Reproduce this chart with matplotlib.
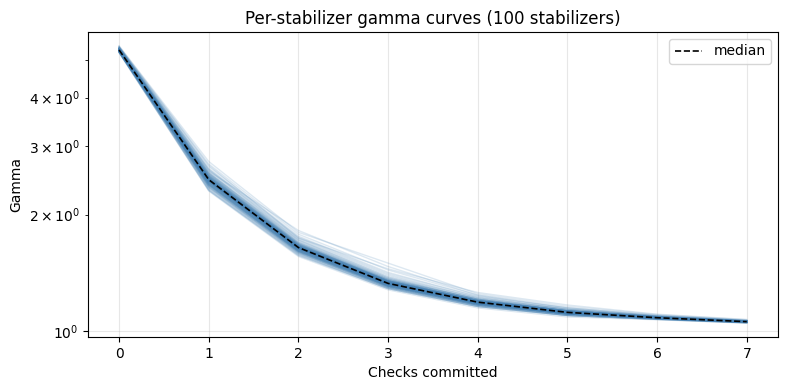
import matplotlib
matplotlib.use("Agg")
import matplotlib.pyplot as plt
import numpy as np

checks = [0, 1, 2, 3, 4, 5, 6, 7]

# gamma per stabilizer, one row per stabilizer
gamma_curves = [
    [5.31, 2.45, 1.64, 1.33, 1.19, 1.12, 1.085, 1.060],
    [5.28, 2.41, 1.62, 1.32, 1.18, 1.11, 1.080, 1.058],
    [5.35, 2.52, 1.68, 1.35, 1.20, 1.13, 1.090, 1.062],
    [5.25, 2.36, 1.60, 1.30, 1.17, 1.11, 1.078, 1.055],
    [5.33, 2.48, 1.66, 1.34, 1.19, 1.12, 1.087, 1.061],
    [5.40, 2.62, 1.74, 1.40, 1.22, 1.14, 1.095, 1.066],
    [5.29, 2.44, 1.63, 1.32, 1.18, 1.12, 1.083, 1.059],
    [5.27, 2.39, 1.61, 1.31, 1.18, 1.11, 1.081, 1.057],
    [5.36, 2.55, 1.69, 1.36, 1.21, 1.13, 1.091, 1.064],
    [5.30, 2.46, 1.65, 1.33, 1.19, 1.12, 1.086, 1.060],
    [5.24, 2.33, 1.58, 1.29, 1.16, 1.10, 1.075, 1.053],
    [5.32, 2.47, 1.65, 1.34, 1.19, 1.12, 1.086, 1.061],
    [5.38, 2.58, 1.71, 1.37, 1.21, 1.13, 1.092, 1.064],
    [5.26, 2.38, 1.61, 1.31, 1.17, 1.11, 1.080, 1.056],
    [5.31, 2.44, 1.64, 1.33, 1.19, 1.12, 1.084, 1.060],
    [5.34, 2.50, 1.67, 1.35, 1.20, 1.13, 1.088, 1.062],
    [5.42, 2.70, 1.78, 1.44, 1.24, 1.15, 1.100, 1.068],
    [5.29, 2.43, 1.63, 1.32, 1.18, 1.12, 1.083, 1.059],
    [5.30, 2.45, 1.64, 1.33, 1.19, 1.12, 1.085, 1.060],
    [5.27, 2.40, 1.62, 1.31, 1.18, 1.11, 1.081, 1.057],
    [5.33, 2.49, 1.66, 1.34, 1.20, 1.12, 1.087, 1.061],
    [5.23, 2.31, 1.57, 1.29, 1.16, 1.10, 1.074, 1.052],
    [5.35, 2.53, 1.67, 1.36, 1.20, 1.13, 1.089, 1.063],
    [5.28, 2.42, 1.63, 1.32, 1.18, 1.11, 1.082, 1.058],
    [5.32, 2.46, 1.65, 1.33, 1.19, 1.12, 1.085, 1.060],
    [5.37, 2.56, 1.72, 1.38, 1.21, 1.14, 1.093, 1.065],
    [5.30, 2.44, 1.64, 1.33, 1.19, 1.12, 1.084, 1.059],
    [5.26, 2.37, 1.60, 1.30, 1.17, 1.11, 1.079, 1.056],
    [5.31, 2.47, 1.65, 1.34, 1.19, 1.12, 1.086, 1.061],
    [5.44, 2.74, 1.80, 1.50, 1.25, 1.16, 1.105, 1.072],
    [5.29, 2.42, 1.63, 1.32, 1.18, 1.12, 1.083, 1.058],
    [5.34, 2.51, 1.67, 1.35, 1.20, 1.13, 1.088, 1.062],
    [5.25, 2.35, 1.59, 1.30, 1.17, 1.10, 1.077, 1.054],
    [5.32, 2.48, 1.66, 1.34, 1.19, 1.12, 1.087, 1.061],
    [5.30, 2.45, 1.64, 1.33, 1.19, 1.12, 1.085, 1.060],
    [5.36, 2.54, 1.68, 1.36, 1.20, 1.13, 1.090, 1.063],
    [5.28, 2.41, 1.62, 1.32, 1.18, 1.11, 1.082, 1.057],
    [5.39, 2.60, 1.73, 1.39, 1.22, 1.14, 1.094, 1.065],
    [5.31, 2.46, 1.65, 1.33, 1.19, 1.12, 1.085, 1.060],
    [5.27, 2.39, 1.61, 1.31, 1.18, 1.11, 1.080, 1.057],
    [5.33, 2.50, 1.66, 1.35, 1.20, 1.12, 1.087, 1.061],
    [5.24, 2.34, 1.59, 1.30, 1.16, 1.10, 1.076, 1.054],
    [5.30, 2.44, 1.64, 1.33, 1.19, 1.12, 1.084, 1.059],
    [5.35, 2.52, 1.68, 1.35, 1.20, 1.13, 1.089, 1.062],
    [5.29, 2.43, 1.63, 1.32, 1.18, 1.12, 1.083, 1.059],
    [5.41, 2.66, 1.76, 1.42, 1.23, 1.15, 1.098, 1.067],
    [5.32, 2.47, 1.65, 1.34, 1.19, 1.12, 1.086, 1.061],
    [5.26, 2.38, 1.61, 1.31, 1.17, 1.11, 1.080, 1.056],
    [5.31, 2.45, 1.64, 1.33, 1.19, 1.12, 1.085, 1.060],
    [5.34, 2.49, 1.66, 1.34, 1.20, 1.12, 1.087, 1.062],
    [5.28, 2.40, 1.62, 1.31, 1.18, 1.11, 1.081, 1.057],
    [5.37, 2.57, 1.70, 1.37, 1.21, 1.13, 1.092, 1.064],
    [5.30, 2.46, 1.65, 1.33, 1.19, 1.12, 1.085, 1.060],
    [5.22, 2.30, 1.56, 1.28, 1.15, 1.09, 1.072, 1.051],
    [5.33, 2.48, 1.66, 1.34, 1.19, 1.12, 1.086, 1.061],
    [5.29, 2.44, 1.63, 1.32, 1.18, 1.12, 1.084, 1.059],
    [5.35, 2.51, 1.67, 1.35, 1.20, 1.13, 1.088, 1.062],
    [5.27, 2.39, 1.61, 1.31, 1.17, 1.11, 1.080, 1.057],
    [5.31, 2.47, 1.65, 1.34, 1.19, 1.12, 1.086, 1.060],
    [5.38, 2.59, 1.82, 1.47, 1.24, 1.15, 1.099, 1.068],
    [5.30, 2.45, 1.64, 1.33, 1.19, 1.12, 1.085, 1.060],
    [5.25, 2.36, 1.60, 1.30, 1.17, 1.11, 1.078, 1.055],
    [5.32, 2.48, 1.65, 1.34, 1.19, 1.12, 1.086, 1.061],
    [5.34, 2.50, 1.67, 1.35, 1.20, 1.13, 1.088, 1.062],
    [5.28, 2.42, 1.62, 1.32, 1.18, 1.11, 1.082, 1.058],
    [5.36, 2.55, 1.69, 1.36, 1.21, 1.13, 1.091, 1.063],
    [5.31, 2.46, 1.64, 1.33, 1.19, 1.12, 1.085, 1.060],
    [5.26, 2.37, 1.60, 1.31, 1.17, 1.11, 1.079, 1.056],
    [5.33, 2.49, 1.66, 1.34, 1.20, 1.12, 1.087, 1.061],
    [5.43, 2.68, 1.74, 1.45, 1.26, 1.17, 1.108, 1.074],
    [5.29, 2.43, 1.63, 1.32, 1.18, 1.12, 1.083, 1.059],
    [5.30, 2.44, 1.64, 1.33, 1.19, 1.12, 1.084, 1.059],
    [5.35, 2.53, 1.68, 1.35, 1.20, 1.13, 1.089, 1.063],
    [5.24, 2.32, 1.58, 1.29, 1.16, 1.10, 1.075, 1.053],
    [5.32, 2.47, 1.65, 1.34, 1.19, 1.12, 1.086, 1.061],
    [5.28, 2.41, 1.62, 1.32, 1.18, 1.11, 1.082, 1.058],
    [5.37, 2.56, 1.70, 1.37, 1.21, 1.13, 1.092, 1.064],
    [5.31, 2.45, 1.64, 1.33, 1.19, 1.12, 1.085, 1.060],
    [5.27, 2.40, 1.61, 1.31, 1.18, 1.11, 1.081, 1.057],
    [5.33, 2.50, 1.66, 1.35, 1.20, 1.12, 1.087, 1.062],
    [5.30, 2.44, 1.64, 1.33, 1.19, 1.12, 1.084, 1.059],
    [5.40, 2.63, 1.75, 1.41, 1.23, 1.14, 1.096, 1.066],
    [5.29, 2.42, 1.63, 1.32, 1.18, 1.12, 1.083, 1.058],
    [5.25, 2.35, 1.59, 1.30, 1.17, 1.10, 1.077, 1.054],
    [5.32, 2.48, 1.65, 1.34, 1.19, 1.12, 1.086, 1.061],
    [5.34, 2.51, 1.67, 1.35, 1.20, 1.13, 1.088, 1.062],
    [5.31, 2.46, 1.65, 1.33, 1.19, 1.12, 1.085, 1.060],
    [5.28, 2.40, 1.62, 1.31, 1.18, 1.11, 1.081, 1.057],
    [5.36, 2.54, 1.69, 1.36, 1.21, 1.13, 1.090, 1.063],
    [5.30, 2.45, 1.64, 1.33, 1.19, 1.12, 1.085, 1.060],
    [5.26, 2.38, 1.61, 1.31, 1.17, 1.11, 1.080, 1.056],
    [5.33, 2.49, 1.66, 1.34, 1.20, 1.12, 1.087, 1.061],
    [5.29, 2.43, 1.63, 1.32, 1.18, 1.12, 1.083, 1.059],
    [5.39, 2.61, 1.72, 1.38, 1.22, 1.14, 1.094, 1.065],
    [5.31, 2.47, 1.65, 1.34, 1.19, 1.12, 1.086, 1.060],
    [5.27, 2.39, 1.61, 1.31, 1.18, 1.11, 1.080, 1.057],
    [5.35, 2.52, 1.68, 1.35, 1.20, 1.13, 1.089, 1.062],
    [5.30, 2.46, 1.64, 1.33, 1.19, 1.12, 1.085, 1.060],
    [5.23, 2.31, 1.57, 1.29, 1.16, 1.10, 1.074, 1.052],
    [5.32, 2.47, 1.66, 1.34, 1.19, 1.12, 1.086, 1.061],
]

curves = np.asarray(gamma_curves)
median = np.median(curves, axis=0)

fig, ax = plt.subplots(figsize=(7.9, 3.9), dpi=100)
fig.subplots_adjust(left=0.111, right=0.985, top=0.918, bottom=0.136)
for row in curves:
    ax.plot(checks, row, color="steelblue", alpha=0.18, linewidth=1.0)
ax.plot(checks, median, color="black", linestyle="--", linewidth=1.2, label="median")

ax.set_yscale("log")
ax.set_xlabel("Checks committed")
ax.set_ylabel("Gamma")
ax.set_title(f"Per-stabilizer gamma curves ({len(curves)} stabilizers)")
ax.grid(True, alpha=0.3)
ax.legend(loc="upper right")

fig.savefig("out.png", dpi=100)
